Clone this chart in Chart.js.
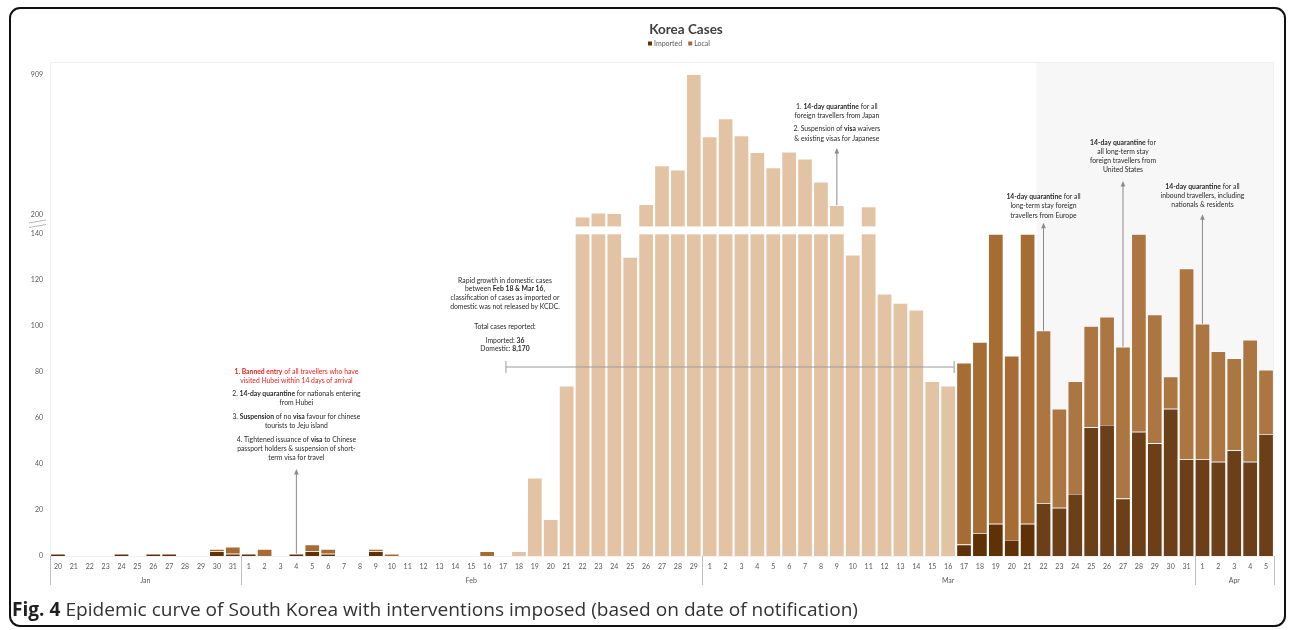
<!DOCTYPE html>
<html>
<head>
<meta charset="utf-8">
<title>Korea Cases</title>
<script src="https://cdn.jsdelivr.net/npm/chart.js@4.4.1/dist/chart.umd.min.js"></script>
<style>
  html, body { margin: 0; padding: 0; background: #ffffff; }
  canvas { display: block; }
</style>
</head>
<body>
<canvas id="epiCurve" width="1293" height="630"></canvas>
<script>
// ---------------------------------------------------------------
// Daily confirmed cases, 20 Jan – 5 Apr 2020 (date of notification)
// ---------------------------------------------------------------
const dayLabels = [
  '20','21','22','23','24','25','26','27','28','29','30','31',
  '1','2','3','4','5','6','7','8','9','10','11','12','13','14','15','16','17','18','19','20','21','22','23','24','25','26','27','28','29',
  '1','2','3','4','5','6','7','8','9','10','11','12','13','14','15','16','17','18','19','20','21','22','23','24','25','26','27','28','29','30','31',
  '1','2','3','4','5'
];
const monthLabels = ['Jan', 'Feb', 'Mar', 'Apr'];
const monthDayCounts = [12, 29, 31, 5];

const importedCases = [
  // Jan 20–31
  1, null, null, null, 1, null, 1, 1, null, null, 2, 1,
  // Feb 1–29
  1, null, null, 1, 2, 1, null, null, 2, null, null, null, null, null, null,
  null, null, null, null, null, null, null, null, null, null, null, null, null, null,
  // Mar 1–31
  null, null, null, null, null, null, null, null, null, null, null, null, null, null, null, null,
  5, 10, 14, 7, 14, 23, 21, 27, 56, 57, 25, 54, 49, 64, 42,
  // Apr 1–5
  42, 41, 46, 41, 53
];

const localCases = [
  // Jan 20–31
  null, null, null, null, null, null, null, null, null, null, 1, 3,
  // Feb 1–29
  null, 3, null, null, 3, 2, null, null, 1, 1, null, null, null, null, null,
  2, null, null, null, null, null, null, null, null, null, null, null, null, null,
  // Mar 1–31
  null, null, null, null, null, null, null, null, null, null, null, null, null, null, null, null,
  79, 83, 126, 80, 126, 75, 43, 49, 44, 47, 66, 86, 56, 14, 83,
  // Apr 1–5
  59, 48, 40, 53, 28
];

// Feb 18 – Mar 16: totals only (no imported / local split released)
const unclassifiedCases = [
  // Jan 20–31
  null, null, null, null, null, null, null, null, null, null, null, null,
  // Feb 1–29
  null, null, null, null, null, null, null, null, null, null, null, null, null, null, null,
  null, null, 2, 34, 16, 74, 190, 210, 207, 130, 253, 449, 427, 909,
  // Mar 1–31
  595, 686, 600, 516, 438, 518, 483, 367, 248, 131, 242, 114, 110, 107, 76, 74,
  null, null, null, null, null, null, null, null, null, null, null, null, null, null, null,
  // Apr 1–5
  null, null, null, null, null
];

const yTickValues = [0, 20, 40, 60, 80, 100, 120, 140, 200, 909];

// ---------------------------------------------------------------
// Styling
// ---------------------------------------------------------------
const FONT = 'Lato, "Open Sans", sans-serif';
const CAPTION_FONT = '"Open Sans", Lato, sans-serif';
const COLOR_IMPORTED = '#603106';
const COLOR_LOCAL = '#A66C34';
const COLOR_UNCLASSIFIED = '#E2C4A4';
const AXIS_TEXT = '#595959';
const NOTE_TEXT = '#2a2a2a';
const NOTE_RED = '#EE2424';
const ARROW_GRAY = '#8a8a8a';

// ---------------------------------------------------------------
// Broken value axis: 0–140 on the lower part, 140–909 compressed above a gap
// ---------------------------------------------------------------
const BREAK_VALUE = 140;
const TOP_VALUE = 909;
const LOWER_SPAN = 322 / 494;    // share of plot height used by 0..140
const UPPER_BASE = 329.3 / 494;  // where the upper part starts (after the gap)
const UPPER_TOP = 481.7 / 494;   // where 909 sits

class BrokenLinearScale extends Chart.LinearScale {
  buildTicks() {
    return yTickValues.map(v => ({ value: v }));
  }
  getPixelForValue(value) {
    if (value === null || value === undefined || isNaN(value)) return NaN;
    const h = this.bottom - this.top;
    let f;
    if (value <= BREAK_VALUE) {
      f = (value / BREAK_VALUE) * LOWER_SPAN;
    } else {
      f = UPPER_BASE + (value - BREAK_VALUE) / (TOP_VALUE - BREAK_VALUE) * (UPPER_TOP - UPPER_BASE);
    }
    return this.bottom - f * h;
  }
  getValueForPixel(pixel) {
    const f = (this.bottom - pixel) / (this.bottom - this.top);
    if (f <= LOWER_SPAN) return f / LOWER_SPAN * BREAK_VALUE;
    return BREAK_VALUE + Math.max(0, f - UPPER_BASE) / (UPPER_TOP - UPPER_BASE) * (TOP_VALUE - BREAK_VALUE);
  }
}
BrokenLinearScale.id = 'brokenLinear';
BrokenLinearScale.defaults = Chart.LinearScale.defaults;
Chart.register(BrokenLinearScale);

// ---------------------------------------------------------------
// Interventions and notes
// ---------------------------------------------------------------
function dateIndex(month, day) {
  const m = monthLabels.indexOf(month);
  let idx = 0;
  for (let i = 0; i < m; i++) idx += monthDayCounts[i];
  return idx + (m === 0 ? day - 20 : day - 1);
}

const interventions = [
  { at: dateIndex('Feb', 4), head: 469, lines: [
      ['**1. Banned entry** of all travellers who have', 371.7, NOTE_RED],
      ['visited Hubei within 14 days of arrival', 380.7, NOTE_RED],
      ['2. **14-day quarantine** for nationals entering', 394],
      ['from Hubei', 402.7],
      ['3. **Suspension** of no **visa** favour for chinese', 416.7],
      ['tourists to Jeju island', 426],
      ['4. Tightened issuance of **visa** to Chinese', 440],
      ['passport holders & suspension of short-', 449],
      ['term visa for travel', 457.7]
  ]},
  { at: dateIndex('Mar', 9), head: 148, lines: [
      ['1. **14-day quarantine** for all', 106.7],
      ['foreign travellers from Japan', 115.7],
      ['2. Suspension of **visa** waivers', 129.3],
      ['& existing visas for Japanese', 138.7]
  ]},
  { at: dateIndex('Mar', 22), head: 222.7, lines: [
      ['**14-day quarantine** for all', 197.3],
      ['long-term stay foreign', 206.3],
      ['travellers from Europe', 215.7]
  ]},
  { at: dateIndex('Mar', 27), head: 181, lines: [
      ['**14-day quarantine** for', 143.3],
      ['all long-term stay', 152.3],
      ['foreign travellers from', 161.3],
      ['United States', 170.3]
  ]},
  { at: dateIndex('Apr', 1), head: 214.3, lines: [
      ['**14-day quarantine** for all', 186.7],
      ['inbound travellers, including', 196],
      ['nationals & residents', 205]
  ]}
];

const unclassifiedNote = {
  from: dateIndex('Feb', 18), to: dateIndex('Mar', 16), textX: 505, bracketY: 367,
  lines: [
    ['Rapid growth in domestic cases', 280.7],
    ['between **Feb 18 & Mar 16**,', 289.3],
    ['classification of cases as imported or', 298.3],
    ['domestic was not released by KCDC.', 306.7],
    ['Total cases reported:', 326.7],
    ['Imported: **36**', 340.7],
    ['Domestic: **8,170**', 349.3]
  ]
};

const NOTE_SIZE = 6.8;

function drawRichLine(ctx, markup, cx, cy, size, color) {
  const parts = markup.split('**');
  const runs = parts.map((t, i) => ({ text: t, bold: i % 2 === 1 })).filter(r => r.text.length);
  let total = 0;
  runs.forEach(r => {
    ctx.font = (r.bold ? 'bold ' : '') + size + 'px ' + FONT;
    r.w = ctx.measureText(r.text).width;
    total += r.w;
  });
  let x = cx - total / 2;
  ctx.textAlign = 'left';
  ctx.textBaseline = 'middle';
  ctx.fillStyle = color;
  runs.forEach(r => {
    ctx.font = (r.bold ? 'bold ' : '') + size + 'px ' + FONT;
    ctx.fillText(r.text, x, cy);
    x += r.w;
  });
}

function drawArrow(ctx, x, yFrom, yHead) {
  ctx.strokeStyle = ARROW_GRAY;
  ctx.fillStyle = ARROW_GRAY;
  ctx.lineWidth = 1;
  ctx.beginPath();
  ctx.moveTo(x, yFrom);
  ctx.lineTo(x, yHead + 4);
  ctx.stroke();
  ctx.beginPath();
  ctx.moveTo(x, yHead);
  ctx.lineTo(x - 2.3, yHead + 5.5);
  ctx.lineTo(x + 2.3, yHead + 5.5);
  ctx.closePath();
  ctx.fill();
}

function stackTotal(i) {
  return (importedCases[i] || 0) + (localCases[i] || 0) + (unclassifiedCases[i] || 0);
}

// ---------------------------------------------------------------
// Plugins: page frame, shading, axis break, notes, month row, title
// ---------------------------------------------------------------
const decorations = {
  id: 'decorations',
  beforeDraw(chart) {
    const ctx = chart.ctx;
    ctx.save();
    ctx.fillStyle = '#ffffff';
    ctx.fillRect(0, 0, chart.width, chart.height);
    ctx.restore();
  },
  beforeDatasetsDraw(chart) {
    const { ctx, chartArea: a, scales: { x } } = chart;
    ctx.save();
    // faint plot-area outline
    ctx.strokeStyle = '#F0F0F0';
    ctx.lineWidth = 1;
    ctx.strokeRect(a.left + 0.5, a.top + 0.5, a.right - a.left - 1, a.bottom - a.top);
    // shaded period from 22 March
    const sx = x.getPixelForValue(dateIndex('Mar', 22) - 0.5) + 1;
    ctx.fillStyle = '#F7F7F7';
    ctx.fillRect(sx, a.top + 1, a.right - 1 - sx, a.bottom - a.top - 1);
    ctx.restore();
  },
  afterDatasetsDraw(chart) {
    const { ctx, chartArea: a, scales: { x, y } } = chart;
    ctx.save();

    // light veil over the shaded period
    const sx = x.getPixelForValue(dateIndex('Mar', 22) - 0.5) + 1;
    ctx.fillStyle = 'rgba(255,255,255,0.07)';
    ctx.fillRect(sx, a.top + 1, a.right - 1 - sx, a.bottom - a.top - 1);

    // gap through bars that cross the axis break
    const yLow = y.getPixelForValue(BREAK_VALUE);
    const yHigh = a.bottom - UPPER_BASE * (a.bottom - a.top);
    chart.data.datasets.forEach((ds, di) => {
      const meta = chart.getDatasetMeta(di);
      meta.data.forEach((bar, i) => {
        if (stackTotal(i) > BREAK_VALUE && ds.data[i] != null) {
          const w = bar.width;
          ctx.fillStyle = '#ffffff';
          ctx.fillRect(bar.x - w / 2 - 1, yHigh - 0.3, w + 2, yLow - yHigh + 0.6);
        }
      });
    });

    // axis-break mark next to the value axis
    ctx.strokeStyle = '#A6A6A6';
    ctx.lineWidth = 0.8;
    [0, 4.5].forEach(d => {
      ctx.beginPath();
      ctx.moveTo(29, 223 + d);
      ctx.lineTo(46, 220 + d);
      ctx.stroke();
    });

    // bracket for the unclassified period
    const n = unclassifiedNote;
    const bx0 = x.getPixelForValue(n.from) - 13;
    const bx1 = x.getPixelForValue(n.to) + 6;
    ctx.strokeStyle = '#9a9a9a';
    ctx.lineWidth = 1;
    ctx.beginPath();
    ctx.moveTo(bx0, n.bracketY); ctx.lineTo(bx1, n.bracketY);
    ctx.moveTo(bx0, n.bracketY - 6); ctx.lineTo(bx0, n.bracketY + 6);
    ctx.moveTo(bx1, n.bracketY - 6); ctx.lineTo(bx1, n.bracketY + 6);
    ctx.stroke();
    n.lines.forEach(([t, ly]) => drawRichLine(ctx, t, n.textX, ly, NOTE_SIZE, NOTE_TEXT));

    // intervention notes with arrows
    interventions.forEach(iv => {
      const px = x.getPixelForValue(iv.at);
      const barTop = y.getPixelForValue(stackTotal(iv.at));
      drawArrow(ctx, px, barTop, iv.head);
      iv.lines.forEach(([t, ly, c]) => drawRichLine(ctx, t, px, ly, NOTE_SIZE, c || NOTE_TEXT));
    });
    ctx.restore();
  },
  afterDraw(chart) {
    const { ctx, chartArea: a, scales: { x } } = chart;
    ctx.save();

    // month row under the day labels
    ctx.strokeStyle = '#BFBFBF';
    ctx.lineWidth = 1;
    ctx.font = '7px ' + FONT;
    ctx.fillStyle = AXIS_TEXT;
    ctx.textAlign = 'center';
    ctx.textBaseline = 'middle';
    let start = 0;
    const edge = i => Math.round(x.getPixelForValue(i - 0.5)) + 0.5;
    ctx.beginPath();
    ctx.moveTo(edge(0), a.bottom); ctx.lineTo(edge(0), a.bottom + 29);
    monthLabels.forEach((m, k) => {
      const end = start + monthDayCounts[k];
      const xr = edge(end);
      ctx.moveTo(xr, a.bottom); ctx.lineTo(xr, a.bottom + 29);
      const xm = (x.getPixelForValue(start - 0.5) + x.getPixelForValue(end - 0.5)) / 2;
      ctx.fillText(m, xm, a.bottom + 25);
      start = end;
    });
    ctx.stroke();

    // title and legend
    ctx.fillStyle = '#404040';
    ctx.font = 'bold 13.5px ' + FONT;
    ctx.textAlign = 'center';
    ctx.textBaseline = 'middle';
    ctx.fillText('Korea Cases', 686, 30);
    ctx.font = '7px ' + FONT;
    ctx.textAlign = 'left';
    const legendItems = [['Imported', COLOR_IMPORTED], ['Local', COLOR_LOCAL]];
    let lx = 648;
    legendItems.forEach(([label, color]) => {
      ctx.fillStyle = color;
      ctx.fillRect(lx, 41.5, 4, 4);
      ctx.fillStyle = AXIS_TEXT;
      ctx.fillText(label, lx + 6, 43.6);
      lx += 6 + ctx.measureText(label).width + 6;
    });

    // figure caption
    const capBold = 'Fig. 4';
    const capText = ' Epidemic curve of South Korea with interventions imposed (based on date of notification)';
    ctx.font = 'bold 19px ' + CAPTION_FONT;
    const wb = ctx.measureText(capBold).width;
    ctx.font = '19px ' + CAPTION_FONT;
    const wt = ctx.measureText(capText).width;
    const sxCap = (858 - 12) / (wb + wt);
    ctx.translate(12, 616);
    ctx.scale(sxCap, 1);
    ctx.textBaseline = 'alphabetic';
    ctx.fillStyle = '#1f1f1f';
    ctx.font = 'bold 19px ' + CAPTION_FONT;
    ctx.fillText(capBold, 0, 0);
    ctx.fillStyle = '#333333';
    ctx.font = '19px ' + CAPTION_FONT;
    ctx.fillText(capText, wb, 0);
    ctx.setTransform(1, 0, 0, 1, 0, 0);

    // rounded page frame
    ctx.strokeStyle = '#111111';
    ctx.lineWidth = 2;
    ctx.beginPath();
    ctx.roundRect(10, 8, 1275, 618, 10);
    ctx.stroke();
    ctx.restore();
  }
};

// ---------------------------------------------------------------
// Chart
// ---------------------------------------------------------------
const barStyle = {
  borderColor: 'rgba(255,255,255,0.85)',
  borderWidth: 0.7,
  barPercentage: 1,
  categoryPercentage: 0.95,
  stack: 'cases'
};

new Chart(document.getElementById('epiCurve'), {
  type: 'bar',
  data: {
    labels: dayLabels,
    datasets: [
      Object.assign({ label: 'Imported', data: importedCases, backgroundColor: COLOR_IMPORTED }, barStyle),
      Object.assign({ label: 'Local', data: localCases, backgroundColor: COLOR_LOCAL }, barStyle),
      Object.assign({ label: 'Unclassified', data: unclassifiedCases, backgroundColor: COLOR_UNCLASSIFIED }, barStyle)
    ]
  },
  options: {
    responsive: false,
    animation: false,
    devicePixelRatio: 1,
    layout: { padding: { top: 62, left: 0, right: 19, bottom: 44 } },
    plugins: {
      legend: { display: false },
      title: { display: false },
      tooltip: { enabled: false }
    },
    scales: {
      x: {
        stacked: true,
        grid: { display: false, drawTicks: false },
        border: { display: true, color: '#BFBFBF', width: 1 },
        ticks: {
          autoSkip: false, maxRotation: 0, minRotation: 0, padding: 7,
          color: AXIS_TEXT, font: { family: FONT, size: 7 }
        },
        afterFit: s => { s.height = 30; }
      },
      y: {
        type: 'brokenLinear',
        stacked: true,
        min: 0,
        max: TOP_VALUE,
        grid: { display: false, drawTicks: false },
        border: { display: false },
        ticks: {
          padding: 7, color: AXIS_TEXT, font: { family: FONT, size: 7 },
          callback: v => String(v)
        },
        afterFit: s => { s.width = 50; }
      }
    }
  },
  plugins: [decorations]
});
</script>
</body>
</html>
